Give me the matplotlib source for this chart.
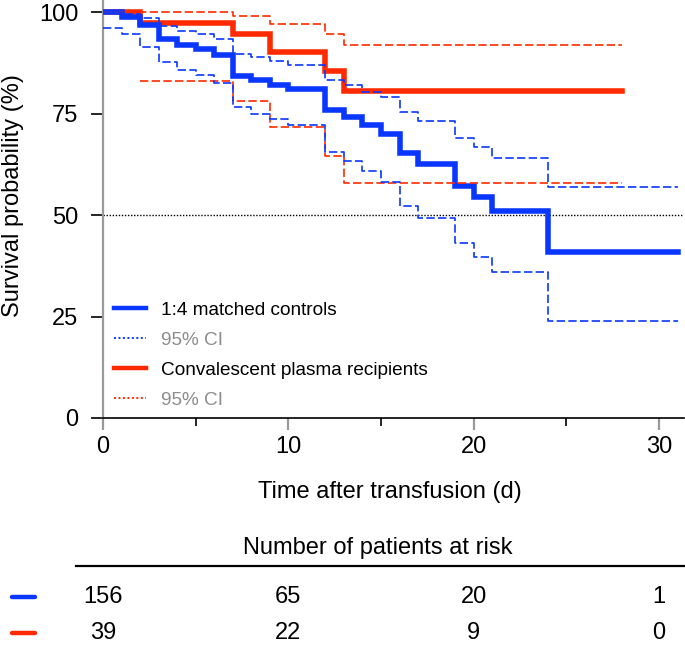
import matplotlib
matplotlib.use("Agg")
import matplotlib.pyplot as plt
from matplotlib.lines import Line2D
import matplotlib.transforms as mtransforms

plt.rcParams['font.family'] = ['Liberation Sans', 'DejaVu Sans']

# ---------------- data ----------------
ctrl_t = [0, 1, 2, 3, 4, 5, 6, 7, 8, 9, 10, 12, 13, 14, 15, 16, 17, 19, 20, 21, 24, 31]
ctrl_s = [100, 98.7, 96.8, 93.3, 92.0, 90.9, 89.4, 84.2, 83.3, 82.0, 81.0, 76.0, 74.2,
          72.1, 70.0, 65.2, 62.7, 57.2, 54.4, 51.0, 40.8, 40.8]
ctrl_hi = [100, 99.5, 98.6, 96.7, 95.4, 94.5, 93.5, 89.8, 89.0, 88.0, 86.9, 83.3, 82.0,
           80.4, 79.1, 75.3, 73.2, 69.1, 66.8, 64.1, 56.8, 56.8]
ctrl_lo = [96.0, 94.7, 91.5, 87.8, 85.7, 84.5, 82.6, 76.6, 75.0, 73.6, 72.2, 65.6, 63.4,
           60.8, 58.1, 52.3, 49.3, 43.0, 39.7, 35.9, 24.0, 24.0]

cp_t = [0, 2, 7, 9, 12, 13, 28]
cp_s = [100, 97.4, 94.6, 90.2, 85.5, 80.6, 80.6]
cp_hi_t = [0, 7, 9, 12, 13, 28]
cp_hi = [100, 99.1, 97.0, 94.6, 91.9, 91.9]
cp_lo_t = [2, 7, 9, 12, 13, 28]
cp_lo = [83.1, 78.2, 71.6, 64.5, 58.0, 58.0]

risk_times = [0, 10, 20, 30]
risk_ctrl = ['156', '65', '20', '1']
risk_cp = ['39', '22', '9', '0']

labels = ['1:4 matched controls', '95% CI', 'Convalescent plasma recipients', '95% CI']

BLUE = '#0a37ff'
RED = '#ff2a00'
GRAY = '#9a9a9a'

# ---------------- figure ----------------
W, H = 685, 647
fig = plt.figure(figsize=(W / 100, H / 100), dpi=100)
ax = fig.add_axes([103 / W, 229 / H, 581 / W, 418 / H])
ax.set_xlim(0, 31.35)
ax.set_ylim(0, 103)

ax.axhline(50, color='black', lw=1.0, ls=(0, (1, 1.2)), zorder=1)

ax.step(cp_t, cp_s, where='post', color=RED, lw=4.0, zorder=2, solid_joinstyle='miter')
ax.step(ctrl_t, ctrl_s, where='post', color=BLUE, lw=4.0, zorder=3, solid_joinstyle='miter')
dash = (0, (5.0, 2.0))
ax.step(cp_hi_t, cp_hi, where='post', color=RED, lw=1.2, ls=dash, zorder=4)
ax.step(cp_lo_t, cp_lo, where='post', color=RED, lw=1.2, ls=dash, zorder=4)
ax.step(ctrl_t, ctrl_hi, where='post', color=BLUE, lw=1.2, ls=dash, zorder=5)
ax.step(ctrl_t, ctrl_lo, where='post', color=BLUE, lw=1.2, ls=dash, zorder=5)

# spines
for s in ['top', 'right']:
    ax.spines[s].set_visible(False)
ax.spines['left'].set_color(GRAY)
ax.spines['left'].set_linewidth(1.6)
ax.spines['bottom'].set_color('black')
ax.spines['bottom'].set_linewidth(1.2)

# ticks
ax.set_yticks([0, 25, 50, 75, 100])
ax.set_yticklabels(['0', '25', '50', '75', '100'])
ax.tick_params(axis='y', length=8.6, width=1.2, pad=9, labelsize=17)
for tk, v in zip(ax.yaxis.get_major_ticks(), [0, 25, 50, 75, 100]):
    tk.tick1line.set_color('black' if v % 50 == 0 else GRAY)

ax.set_xticks([0, 10, 20, 30])
ax.set_xticks([5, 15, 25], minor=True)
ax.tick_params(axis='x', which='major', length=8.6, width=1.6, color=GRAY, pad=4.5, labelsize=17)
ax.tick_params(axis='x', which='minor', length=5.8, width=1.2, color='black')

ax.set_ylabel('Survival probability (%)', fontsize=17)
ax.yaxis.set_label_coords(-0.136, 0.533)
ax.set_xlabel('Time after transfusion (d)', fontsize=17, va='center')
ax.xaxis.set_label_coords(0.494, -0.177)

# legend
handles = [Line2D([], [], color=BLUE, lw=3.2),
           Line2D([], [], color=BLUE, lw=1.4, ls=(0, (1, 1.3))),
           Line2D([], [], color=RED, lw=3.2),
           Line2D([], [], color=RED, lw=1.4, ls=(0, (1, 1.3)))]
leg = ax.legend(handles, labels, loc='center left', bbox_to_anchor=(0.019, 0.150),
                frameon=False, fontsize=13.7, handlelength=1.7, handletextpad=0.75,
                labelspacing=0.66, borderpad=0, borderaxespad=0)
for i, t in enumerate(leg.get_texts()):
    t.set_color('black' if i % 2 == 0 else '#8c8c8c')

# risk table
fig.text(378 / W, 1 - 548 / H, 'Number of patients at risk', ha='center', va='center', fontsize=17)
fig.add_artist(Line2D([76 / W, 1.0], [1 - 566 / H, 1 - 566 / H], color='black', lw=1.6,
                      transform=fig.transFigure))
blend = mtransforms.blended_transform_factory(ax.transData, fig.transFigure)
row_y = [1 - 597 / H, 1 - 633 / H]
for yy, vals, col in zip(row_y, [risk_ctrl, risk_cp], [BLUE, RED]):
    fig.add_artist(Line2D([12 / W, 35 / W], [yy, yy], color=col, lw=3.2,
                          transform=fig.transFigure, solid_capstyle='round'))
    for tt, v in zip(risk_times, vals):
        fig.text(tt, yy, v, transform=blend, ha='center', va='center', fontsize=17)

fig.savefig('out.png', dpi=100)
